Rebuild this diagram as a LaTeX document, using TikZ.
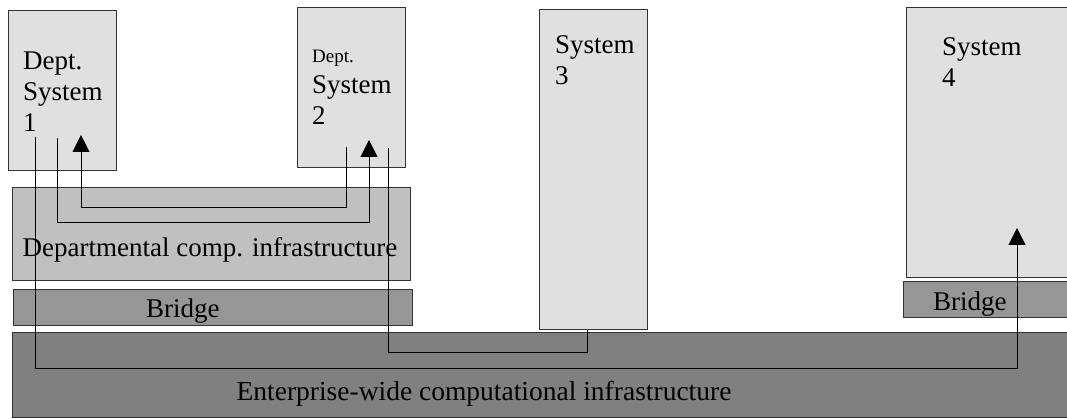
\documentclass[tikz,border=0pt]{standalone}
\usepackage{fontspec}
\setmainfont{Liberation Serif}
\usepackage{xcolor}
\usetikzlibrary{arrows.meta}
\definecolor{sysgray}{HTML}{E0E0E0}
\definecolor{infragray}{HTML}{C0C0C0}
\definecolor{bridgegray}{HTML}{969696}
\definecolor{entgray}{HTML}{808080}

\begin{document}
\begin{tikzpicture}[x=1pt, y=-1pt,
    box/.style={draw=black!80, line width=1pt, anchor=north west, inner sep=0pt},
    sysbox/.style={box, fill=sysgray},
    lbl/.style={font=\fontsize{27}{31}\selectfont, inner sep=0pt},
    conn/.style={black, line width=1pt},
    tip/.style={conn, -{Triangle[length=17pt, width=17pt]}}]
  \clip (0,0) rectangle (1067,419);
  % Sistemas
  \node[sysbox, minimum width=108pt, minimum height=160pt] (sys1) at (8,10) {};
  \node[sysbox, minimum width=108pt, minimum height=160pt] (sys2) at (297,7) {};
  \node[sysbox, minimum width=108pt, minimum height=320pt] (sys3) at (539,9) {};
  \node[sysbox, minimum width=180pt, minimum height=270pt] (sys4) at (906,7) {};
  % Camadas
  \node[box, fill=infragray, minimum width=398pt, minimum height=93pt] (dept) at (12,187) {};
  \node[box, fill=bridgegray, minimum width=399pt, minimum height=36pt] (bridgeL) at (13,289) {};
  \node[box, fill=bridgegray, minimum width=180pt, minimum height=36pt] (bridgeR) at (903,281) {};
  \node[box, fill=entgray, minimum width=1070pt, minimum height=85pt] (ent) at (12,332) {};
  % Textos
  \node[lbl, anchor=north west, align=left] (t1) at (23,52) {Dept.\\System\\1};
  \node[lbl, anchor=north west, align=left] (t2) at (312,50) {{\fontsize{19}{21}\selectfont Dept.}\\System\\2};
  \node[lbl, anchor=north west, align=left] (t3) at (555,35) {System\\3};
  \node[lbl, anchor=north west, align=left] (t4) at (942,37) {System\\4};
  \node[lbl, anchor=base] (tdept) at (210,257) {Departmental comp. infrastructure};
  \node[lbl, anchor=base west] (tbL) at (146,317) {Bridge};
  \node[lbl, anchor=base west] (tbR) at (933,310) {Bridge};
  \node[lbl, font=\fontsize{27.5}{31}\selectfont, anchor=base] (tent) at (484,400) {Enterprise-wide computational infrastructure};
  % Ligacoes
  \coordinate (a1) at (35,137);
  \coordinate (a2) at (57,138);
  \coordinate (a3) at (81,135);
  \coordinate (b1) at (346,147);
  \coordinate (b2) at (369,140);
  \coordinate (b3) at (388,148);
  \coordinate (c1) at ([xshift=-6pt]sys3.south);
  \coordinate (d1) at (1017,228);
  \draw[tip] (b1) -- ++(0,61) -| (a3);
  \draw[tip] (a2) -- ++(0,85) -| (b2);
  \draw[tip] (a1) -- ++(0,231) -| (d1);
  \draw[conn] (b3) -- ++(0,204) -| (c1);
\end{tikzpicture}
\end{document}
